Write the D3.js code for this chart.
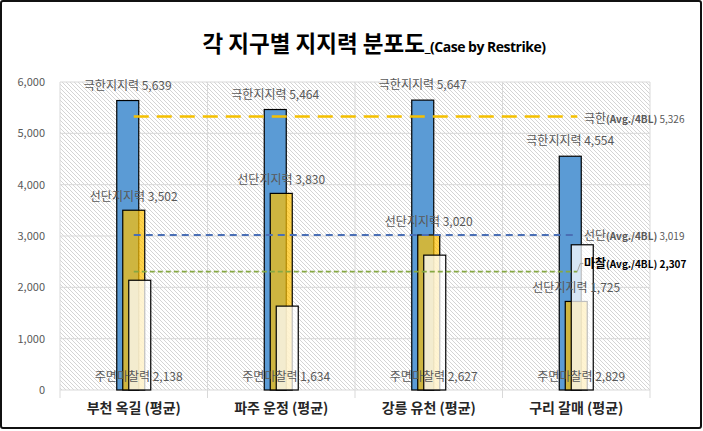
<!DOCTYPE html>
<html><head><meta charset="utf-8">
<script src="https://cdn.jsdelivr.net/npm/d3@7"></script>
<style>
html,body{margin:0;padding:0;background:#fff;}
svg{display:block;font-family:"Noto Sans CJK KR","Noto Sans",sans-serif;}
</style></head>
<body><svg id="c" width="703" height="431"></svg>
<script>
const categories = ["부천 옥길 (평균)", "파주 운정 (평균)", "강릉 유천 (평균)", "구리 갈매 (평균)"];
const ultimate = [5639, 5464, 5647, 4554];   // 극한지지력
const tipRes = [3502, 3830, 3020, 1725];     // 선단지지력
const friction = [2138, 1634, 2627, 2829];   // 주면마찰력
const yTicks = [0, 1000, 2000, 3000, 4000, 5000, 6000];
const avgNames = ["극한", "선단", "마찰"];
const avgValues = [5326, 3019, 2307];

(function () {
const svg = d3.select("#c");
const W = 703, H = 431;
const pL = 60, pR = 650, pT = 82, pB = 390;

const x = d3.scaleBand().domain(categories).range([pL, pR]).padding(0);
const y = d3.scaleLinear().domain([0, 6000]).range([pB, pT]);
const fmt = d3.format(",");

// outer border
svg.append("rect").attr("x", 1).attr("y", 1).attr("width", W - 3).attr("height", H - 4)
  .attr("rx", 2).attr("fill", "#fff").attr("stroke", "#111").attr("stroke-width", 2);

// hatch pattern
const defs = svg.append("defs");
const pat = defs.append("pattern").attr("id", "hatch").attr("patternUnits", "userSpaceOnUse")
  .attr("width", 4).attr("height", 4);
pat.append("rect").attr("width", 4).attr("height", 4).attr("fill", "#fff");
pat.append("path").attr("d", "M-1,-1 L5,5 M-1,3 L1,5 M3,-1 L5,1").attr("stroke", "#cfcfcf").attr("stroke-width", 0.9);

svg.append("rect").attr("x", pL).attr("y", pT).attr("width", pR - pL).attr("height", pB - pT)
  .attr("fill", "url(#hatch)");

// gridlines
svg.append("g").selectAll("line").data(yTicks).join("line")
  .attr("x1", pL).attr("x2", pR).attr("y1", d => y(d)).attr("y2", d => y(d))
  .attr("stroke", "#d9d9d9").attr("stroke-width", 1);
const bounds = categories.map(c => x(c)).concat([pR]);
svg.append("g").selectAll("line").data(bounds).join("line")
  .attr("x1", d => d).attr("x2", d => d).attr("y1", pT).attr("y2", pB + 8)
  .attr("stroke", "#d9d9d9").attr("stroke-width", 1);

// y axis labels
const yAxis = d3.axisLeft(y).tickValues(yTicks).tickFormat(d => fmt(d)).tickSize(0).tickPadding(0);
const ga = svg.append("g").attr("transform", `translate(45,0)`).call(yAxis);
ga.select(".domain").remove();
ga.selectAll("text").attr("font-size", 11).attr("fill", "#595959")
  .attr("font-family", "'Noto Sans CJK KR',sans-serif");

// x axis labels
const xAxis = d3.axisBottom(x).tickSize(0).tickPadding(0);
const gx = svg.append("g").attr("transform", `translate(0,${pB + 13})`).call(xAxis);
gx.select(".domain").remove();
gx.selectAll("text").attr("font-size", 14).attr("font-weight", "bold").attr("fill", "#262626")
  .attr("font-family", "'Noto Sans CJK KR',sans-serif");

const bw = 22;
const cx = c => x(c) + x.bandwidth() / 2;

// bars
const series = [
  {vals: ultimate, off: -17, fill: "#5b9bd5", op: 1},
  {vals: tipRes, off: -11, fill: "#ffc000", op: 0.7},
  {vals: friction, off: -5, fill: "#ffffff", op: 0.75}
];
series.forEach(s => {
  svg.append("g").selectAll("rect").data(categories).join("rect")
    .attr("x", (c) => cx(c) + s.off)
    .attr("y", (c, i) => y(s.vals[i]))
    .attr("width", bw)
    .attr("height", (c, i) => pB - y(s.vals[i]))
    .attr("fill", s.fill).attr("fill-opacity", s.op)
    .attr("stroke", "#000").attr("stroke-width", 1.2);
});

// data labels
const lab = svg.append("g").attr("font-size", 12).attr("fill", "#595959");
lab.selectAll("text.u").data(categories).join("text").attr("class", "u")
  .attr("x", c => cx(c) - 17 + bw / 2).attr("y", (c, i) => y(ultimate[i]) - 11)
  .attr("text-anchor", "middle").text((c, i) => "극한지지력 " + fmt(ultimate[i]));
lab.selectAll("text.t").data(categories).join("text").attr("class", "t")
  .attr("x", c => cx(c) - 11 + bw / 2).attr("y", (c, i) => y(tipRes[i]) - 9)
  .attr("text-anchor", "middle").text((c, i) => "선단지지력 " + fmt(tipRes[i]));
lab.selectAll("text.f").data(categories).join("text").attr("class", "f")
  .attr("x", c => cx(c) - 5 + bw / 2 - 1).attr("y", pB - 9)
  .attr("text-anchor", "middle").text((c, i) => "주면마찰력 " + fmt(friction[i]));

// average lines
const x0 = cx(categories[0]), x1 = cx(categories[categories.length - 1]) + 1;
const avgStyles = [
  {stroke: "#f5c000", w: 2.5, dash: "15,8"},
  {stroke: "#4a6fb5", w: 2, dash: "7,5"},
  {stroke: "#86a843", w: 1.8, dash: "5,3"}
];
avgValues.forEach((v, i) => {
  svg.append("line").attr("x1", x0).attr("x2", x1).attr("y1", y(v)).attr("y2", y(v))
    .attr("stroke", avgStyles[i].stroke).attr("stroke-width", avgStyles[i].w)
    .attr("stroke-dasharray", avgStyles[i].dash);
});

// average labels
const lblY = [y(avgValues[0]) + 6, y(avgValues[1]) + 5, y(avgValues[2]) - 4];
avgValues.forEach((v, i) => {
  const bold = i === 2;
  const t = svg.append("text").attr("x", 584).attr("y", lblY[i])
    .attr("fill", bold ? "#000" : "#595959")
    .attr("font-weight", bold ? "bold" : "normal");
  t.append("tspan").attr("font-size", 12).text(avgNames[i]);
  t.append("tspan").attr("font-size", 10).attr("font-weight", "bold").text("(Avg./4BL)");
  t.append("tspan").attr("font-size", 10).text(" " + fmt(v));
});
// leader line for 마찰 label
svg.append("path")
  .attr("d", `M${x1},${y(avgValues[2])} L${x1 + 3},${lblY[2] - 4} L${x1 + 6},${lblY[2] - 4}`)
  .attr("fill", "none").attr("stroke", "#a6a6a6").attr("stroke-width", 1);

// title
const title = svg.append("text").attr("x", 374).attr("y", 52).attr("text-anchor", "middle").attr("fill", "#000");
title.append("tspan").attr("font-size", 22.5).attr("font-weight", "bold").text("각 지구별 지지력 분포도");
title.append("tspan").attr("font-size", 14).attr("font-weight", "bold").attr("letter-spacing", -0.5)
  .attr("font-family", "'Liberation Sans Narrow','Open Sans',sans-serif").text("_(Case by Restrike)");
})();
</script></body></html>
